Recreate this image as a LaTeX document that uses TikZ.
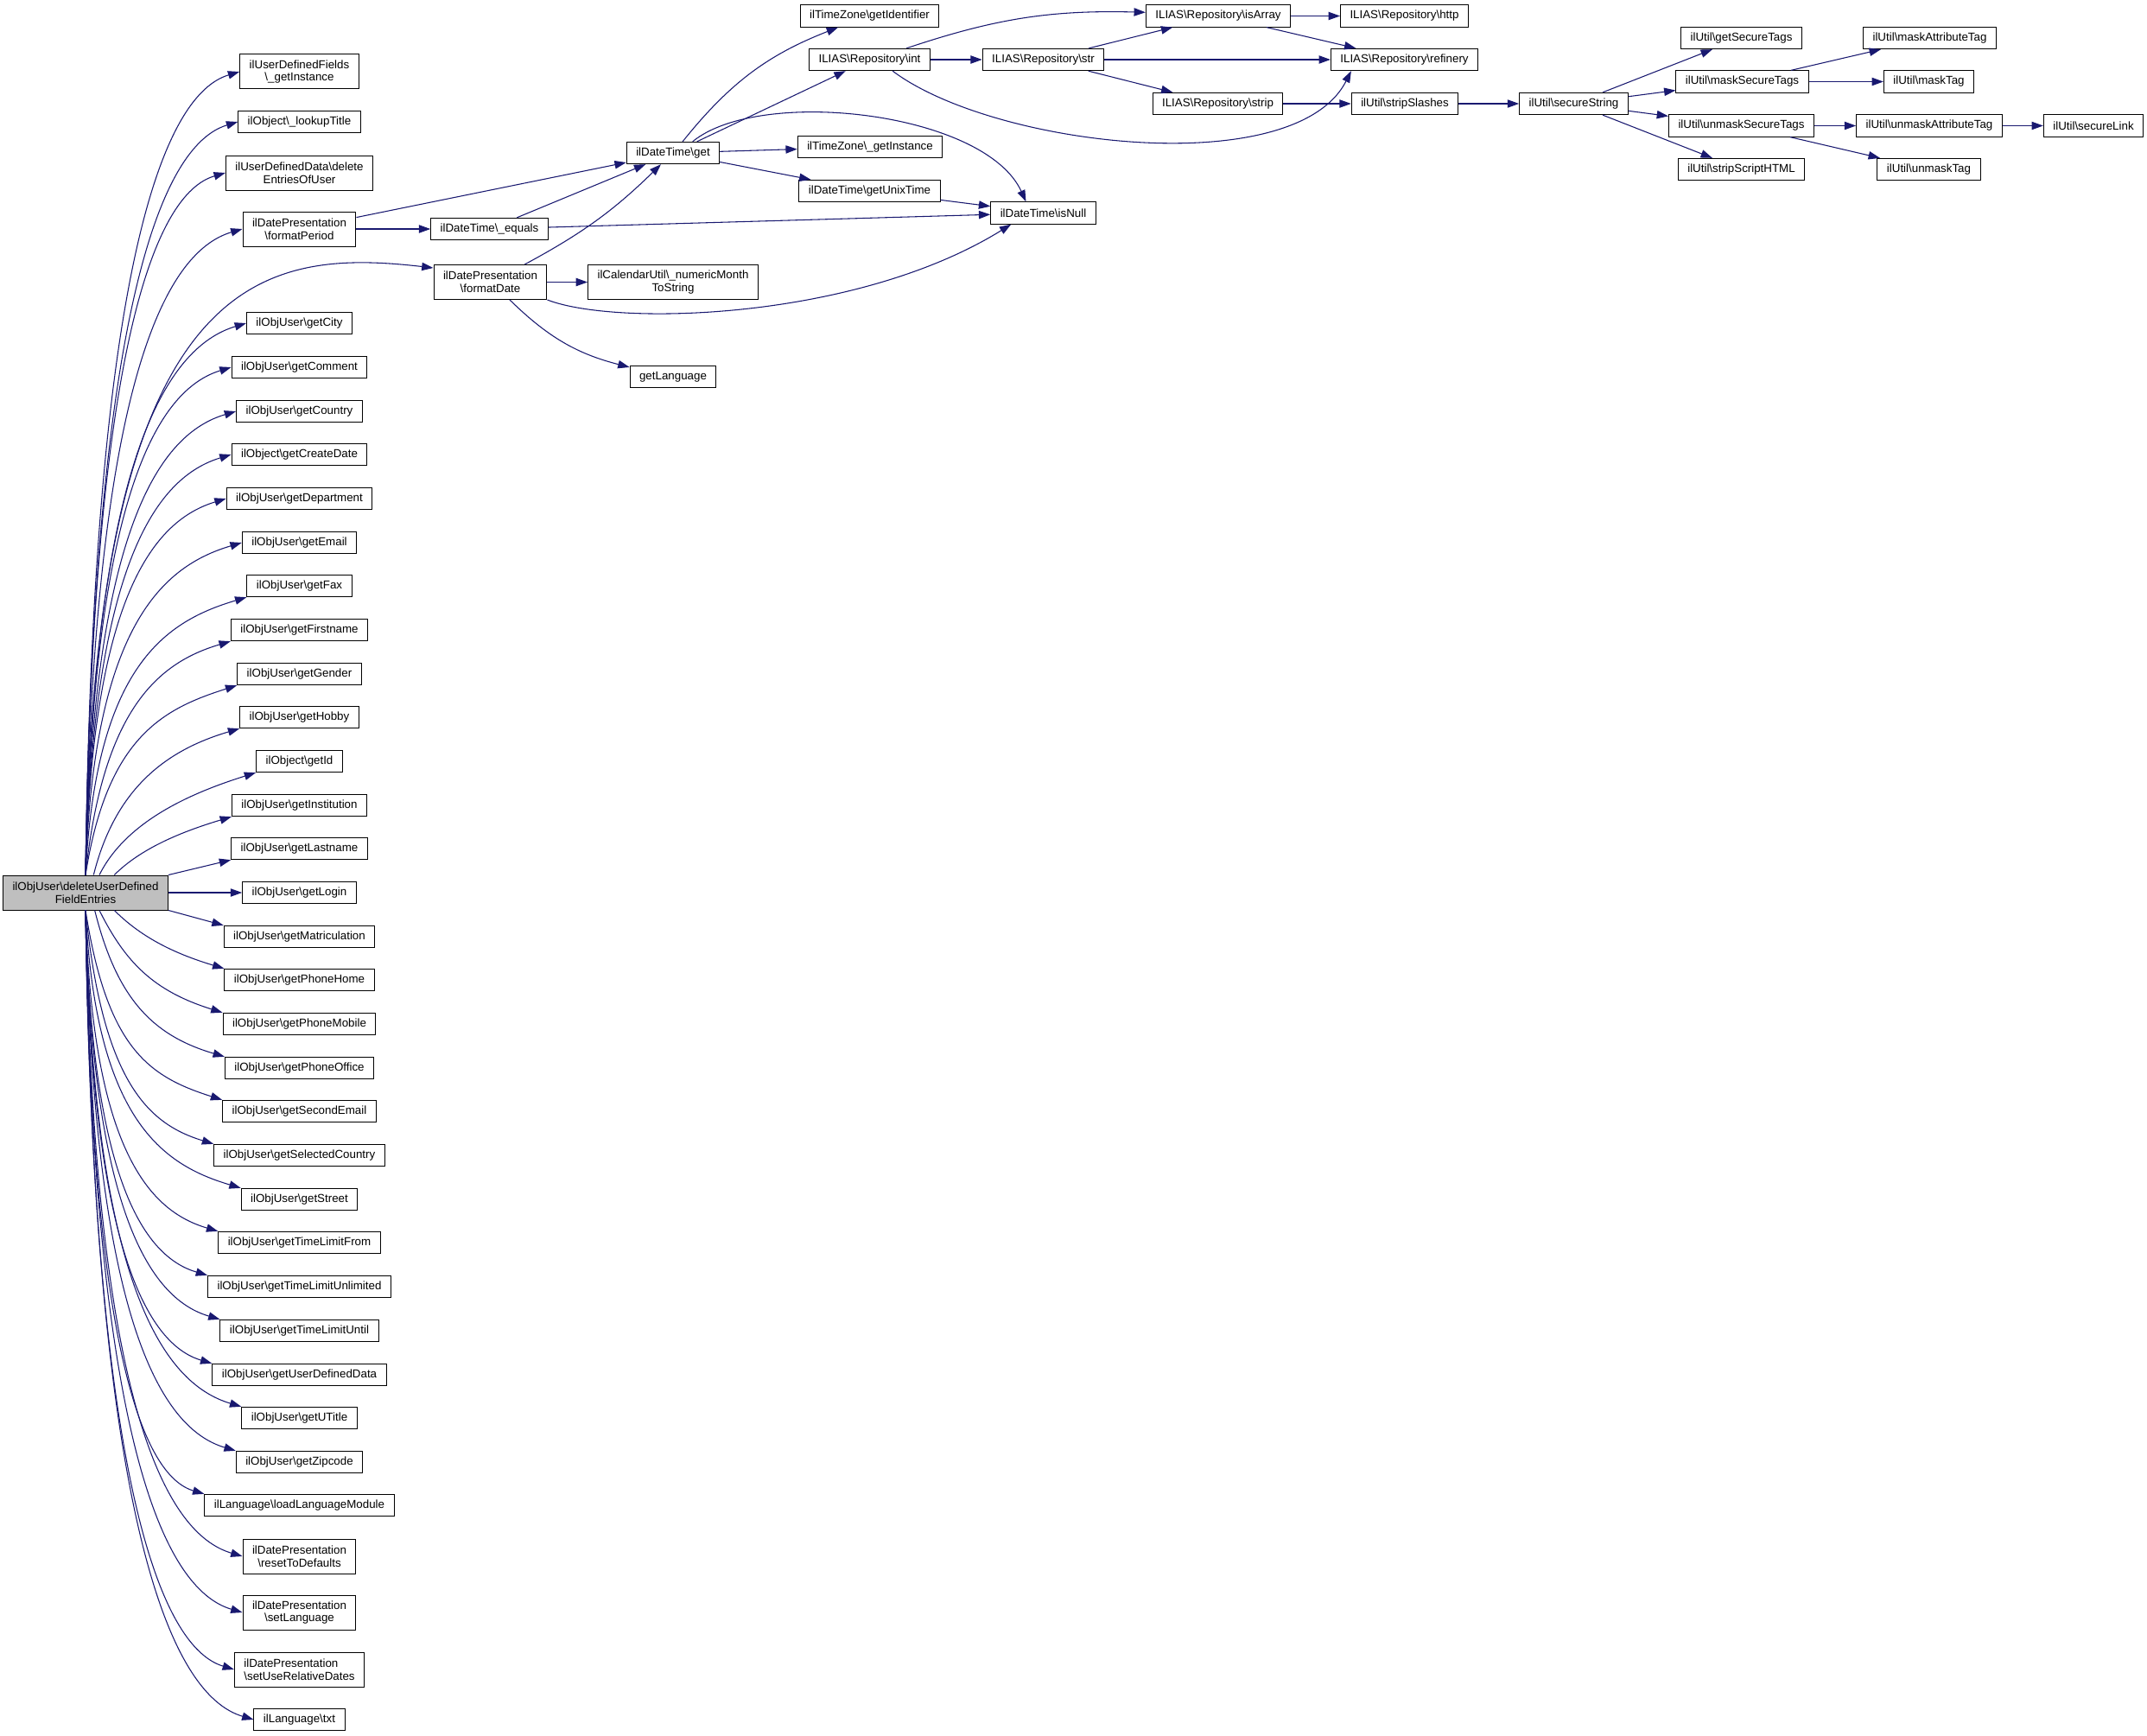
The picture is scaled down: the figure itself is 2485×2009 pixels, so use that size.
\documentclass[tikz,border=0pt]{standalone}
\usepackage{fontspec}
\setmainfont{Liberation Sans}
\usetikzlibrary{arrows.meta}
\definecolor{edgeblue}{HTML}{191970}
\newcommand{\bksl}{\textbackslash}

\begin{document}
\begin{tikzpicture}[x=0.75pt,y=-0.75pt,
  func/.style={draw=black,line width=0.75pt,fill=white,font=\fontsize{10}{11}\selectfont,
    inner xsep=8.25pt,inner ysep=2pt,minimum height=19pt,align=center},
  twoline/.style={func,minimum height=30pt},
  root/.style={twoline,fill=gray!50},
  call/.style={draw=edgeblue,line width=0.8pt,-{Triangle[length=10pt,width=7pt]}}]
\useasboundingbox (0,0) rectangle (2485,2009);
% caller
\node[root] (main) at (99,1033) {ilObjUser\bksl deleteUserDefined\\FieldEntries};
% first column of callees
\node[twoline] (gIns) at (346.5,83) {ilUserDefinedFields\\\bksl\_getInstance};
\node[func] (lTit) at (346.5,141) {ilObject\bksl\_lookupTitle};
\node[twoline] (dEnt) at (346.5,200) {ilUserDefinedData\bksl delete\\EntriesOfUser};
\node[twoline] (fPer) at (346.5,265) {ilDatePresentation\\\bksl formatPeriod};
\node[func] (gCity) at (346.5,374) {ilObjUser\bksl getCity};
\node[func] (gComm) at (346.5,425) {ilObjUser\bksl getComment};
\node[func] (gCoun) at (346.5,476) {ilObjUser\bksl getCountry};
\node[func] (gCrea) at (346.5,526) {ilObject\bksl getCreateDate};
\node[func] (gDept) at (346.5,577) {ilObjUser\bksl getDepartment};
\node[func] (gMail) at (346.5,628) {ilObjUser\bksl getEmail};
\node[func] (gFax) at (346.5,678) {ilObjUser\bksl getFax};
\node[func] (gFirst) at (346.5,729) {ilObjUser\bksl getFirstname};
\node[func] (gGend) at (346.5,780) {ilObjUser\bksl getGender};
\node[func] (gHob) at (346.5,830) {ilObjUser\bksl getHobby};
\node[func] (gId) at (346.5,881) {ilObject\bksl getId};
\node[func] (gInst) at (346.5,932) {ilObjUser\bksl getInstitution};
\node[func] (gLast) at (346.5,982) {ilObjUser\bksl getLastname};
\node[func] (gLogin) at (346.5,1033) {ilObjUser\bksl getLogin};
\node[func] (gMatr) at (346.5,1084) {ilObjUser\bksl getMatriculation};
\node[func] (gPHome) at (346.5,1134) {ilObjUser\bksl getPhoneHome};
\node[func] (gPMob) at (346.5,1185) {ilObjUser\bksl getPhoneMobile};
\node[func] (gPOff) at (346.5,1236) {ilObjUser\bksl getPhoneOffice};
\node[func] (gSEm) at (346.5,1286) {ilObjUser\bksl getSecondEmail};
\node[func] (gSel) at (346.5,1337) {ilObjUser\bksl getSelectedCountry};
\node[func] (gStr) at (346.5,1388) {ilObjUser\bksl getStreet};
\node[func] (gTLF) at (346.5,1438) {ilObjUser\bksl getTimeLimitFrom};
\node[func] (gTLUnl) at (346.5,1489) {ilObjUser\bksl getTimeLimitUnlimited};
\node[func] (gTLUnt) at (346.5,1540) {ilObjUser\bksl getTimeLimitUntil};
\node[func] (gUDD) at (346.5,1591) {ilObjUser\bksl getUserDefinedData};
\node[func] (gUTit) at (346.5,1641) {ilObjUser\bksl getUTitle};
\node[func] (gZip) at (346.5,1692) {ilObjUser\bksl getZipcode};
\node[func] (lLang) at (346.5,1742) {ilLanguage\bksl loadLanguageModule};
\node[twoline] (rDef) at (346.5,1801) {ilDatePresentation\\\bksl resetToDefaults};
\node[twoline] (sLang) at (346.5,1866) {ilDatePresentation\\\bksl setLanguage};
\node[twoline,align=left] (sRel) at (346.5,1932) {ilDatePresentation\\\bksl setUseRelativeDates};
\node[func] (lTxt) at (346.5,1990) {ilLanguage\bksl txt};
% date helpers
\node[func] (dtEq) at (566.5,265) {ilDateTime\bksl\_equals};
\node[twoline] (fDate) at (567.5,326.5) {ilDatePresentation\\\bksl formatDate};
\node[func] (dtGet) at (779,177) {ilDateTime\bksl get};
\node[twoline] (calNum) at (779,326.5) {ilCalendarUtil\bksl\_numericMonth\\ToString};
\node[func] (getLang) at (779,436) {getLanguage};
\node[func] (tzId) at (1006.5,18.5) {ilTimeZone\bksl getIdentifier};
\node[func] (rInt) at (1006.5,69) {ILIAS\bksl Repository\bksl int};
\node[func] (tzInst) at (1007,170) {ilTimeZone\bksl\_getInstance};
\node[func] (dtUnix) at (1006.5,221) {ilDateTime\bksl getUnixTime};
\node[func] (rStr) at (1207.5,69) {ILIAS\bksl Repository\bksl str};
\node[func] (dtNull) at (1207.5,246.5) {ilDateTime\bksl isNull};
% repository and util
\node[func] (rArr) at (1410,18.5) {ILIAS\bksl Repository\bksl isArray};
\node[func] (rStrip) at (1409.5,120) {ILIAS\bksl Repository\bksl strip};
\node[func] (rHttp) at (1625.5,18.5) {ILIAS\bksl Repository\bksl http};
\node[func] (rRef) at (1625.5,69) {ILIAS\bksl Repository\bksl refinery};
\node[func] (uSlash) at (1626,120) {ilUtil\bksl stripSlashes};
\node[func] (uSec) at (1821.5,120) {ilUtil\bksl secureString};
\node[func] (uGetST) at (2015.5,44) {ilUtil\bksl getSecureTags};
\node[func] (uMaskST) at (2016.5,94.5) {ilUtil\bksl maskSecureTags};
\node[func] (uUnmST) at (2015.5,145.5) {ilUtil\bksl unmaskSecureTags};
\node[func] (uScript) at (2015.5,196) {ilUtil\bksl stripScriptHTML};
\node[func] (uMaskAT) at (2233.5,44) {ilUtil\bksl maskAttributeTag};
\node[func] (uMaskT) at (2232.5,94.5) {ilUtil\bksl maskTag};
\node[func] (uUnmAT) at (2233,145.5) {ilUtil\bksl unmaskAttributeTag};
\node[func] (uUnmT) at (2232.5,196) {ilUtil\bksl unmaskTag};
\node[func] (uLink) at (2423,145.5) {ilUtil\bksl secureLink};
% fan out of the caller, upper half
\draw[call] (main.north) .. controls +(9,-698) and +(-90,27) .. (gIns.west);
\draw[call] (main.north) .. controls +(9,-654) and +(-89,27) .. (lTit.west);
\draw[call] (main.north) .. controls +(8,-610) and +(-82,24) .. (dEnt.west);
\draw[call] (main.north) .. controls +(9,-561) and +(-92,27) .. (fPer.west);
\draw[call] (main.north) .. controls +(10,-700) and +(-200,-23) .. ([yshift=-3pt]fDate.north west);
\draw[call] (main.north) .. controls +(9,-479) and +(-93,28) .. (gCity.west);
\draw[call] (main.north) .. controls +(9,-441) and +(-85,26) .. (gComm.west);
\draw[call] (main.north) .. controls +(9,-403) and +(-88,26) .. (gCoun.west);
\draw[call] (main.north) .. controls +(9,-365) and +(-85,26) .. (gCrea.west);
\draw[call] (main.north) .. controls +(8,-327) and +(-82,25) .. (gDept.west);
\draw[call] (main.north) .. controls +(9,-289) and +(-91,27) .. (gMail.west);
\draw[call] (main.north) .. controls +(12,-242) and +(-94,28) .. (gFax.south west);
\draw[call] (main.north) .. controls +(20,-190) and +(-85,25) .. (gFirst.south west);
\draw[call] (main.north) .. controls +(25,-160) and +(-85,27) .. (gGend.south west);
\draw[call] ([xshift=7pt]main.north) .. controls +(25,-100) and +(-85,25) .. (gHob.south west);
\draw[call] ([xshift=12pt]main.north) .. controls +(30,-60) and +(-80,25) .. (gId.south west);
\draw[call] ([xshift=25pt]main.north) .. controls +(30,-30) and +(-60,18) .. (gInst.south west);
\draw[call] (main.north east) -- (gLast.south west);
\draw[call] (main) -- (gLogin);
% fan out of the caller, lower half
\draw[call] (main.south east) -- (gMatr.north west);
\draw[call] ([xshift=25pt]main.south) .. controls +(30,30) and +(-60,-18) .. (gPHome.north west);
\draw[call] ([xshift=12pt]main.south) .. controls +(30,60) and +(-80,-25) .. (gPMob.north west);
\draw[call] ([xshift=8pt]main.south) .. controls +(25,100) and +(-85,-25) .. (gPOff.north west);
\draw[call] (main.south) .. controls +(25,160) and +(-85,-27) .. (gSEm.north west);
\draw[call] (main.south) .. controls +(20,200) and +(-75,-23) .. (gSel.north west);
\draw[call] (main.south) .. controls +(12,242) and +(-91,-27) .. (gStr.north west);
\draw[call] (main.south) .. controls +(8,280) and +(-78,-23) .. (gTLF.north west);
\draw[call] (main.south) .. controls +(7,318) and +(-71,-21) .. (gTLUnl.north west);
\draw[call] (main.south) .. controls +(8,356) and +(-78,-23) .. (gTLUnt.north west);
\draw[call] (main.south) .. controls +(7,394) and +(-74,-22) .. (gUDD.north west);
\draw[call] (main.south) .. controls +(9,432) and +(-91,-27) .. (gUTit.north west);
\draw[call] (main.south) .. controls +(9,470) and +(-88,-26) .. (gZip.north west);
\draw[call] (main.south) .. controls +(7,508) and +(-71,-21) .. (lLang.north west);
\draw[call] (main.south) .. controls +(9,561) and +(-92,-27) .. (rDef.west);
\draw[call] (main.south) .. controls +(9,610) and +(-92,-27) .. (sLang.west);
\draw[call] (main.south) .. controls +(9,659) and +(-86,-26) .. (sRel.west);
\draw[call] (main.south) .. controls +(10,703) and +(-98,-29) .. (lTxt.west);
% date calls
\draw[call] (fPer) -- (dtGet);
\draw[call] (fPer) -- (dtEq);
\draw[call] (dtEq) -- (dtGet);
\draw[call] (dtEq) -- (dtNull);
\draw[call] (fDate) to[bend right=8] (dtGet);
\draw[call] (fDate) -- (calNum);
\draw[call] (fDate.south east) .. controls +(80,31) and +(-179,111) .. ([xshift=18pt]dtNull.south west);
\draw[call] (fDate) to[bend right=15] (getLang);
\draw[call] (dtGet) to[bend left=15] (tzId);
\draw[call] (dtGet) -- (rInt);
\draw[call] ([xshift=17pt]dtGet.north) .. controls +(78,-64) and +(-47.5,-104) .. ([xshift=-15pt]dtNull.north);
\draw[call] (dtGet) -- (tzInst);
\draw[call] (dtGet) -- (dtUnix);
\draw[call] (dtUnix) -- (dtNull);
% repository calls
\draw[call] (rInt) to[bend left=10] (rArr);
\draw[call] (rInt) -- (rStr);
\draw[call] ([xshift=20pt]rInt.south) .. controls +(117,88) and +(-65,128) .. ([xshift=18pt]rRef.south west);
\draw[call] (rStr) -- (rArr);
\draw[call] (rStr) -- (rRef);
\draw[call] (rStr) -- (rStrip);
\draw[call] (rArr) -- (rHttp);
\draw[call] (rArr) -- (rRef);
\draw[call] (rStrip) -- (uSlash);
% util calls
\draw[call] (uSlash) -- (uSec);
\draw[call] (uSec) -- (uGetST);
\draw[call] (uSec) -- (uMaskST);
\draw[call] (uSec) -- (uUnmST);
\draw[call] (uSec) -- (uScript);
\draw[call] (uMaskST) -- (uMaskAT);
\draw[call] (uMaskST) -- (uMaskT);
\draw[call] (uUnmST) -- (uUnmAT);
\draw[call] (uUnmST) -- (uUnmT);
\draw[call] (uUnmAT) -- (uLink);
\end{tikzpicture}
\end{document}
